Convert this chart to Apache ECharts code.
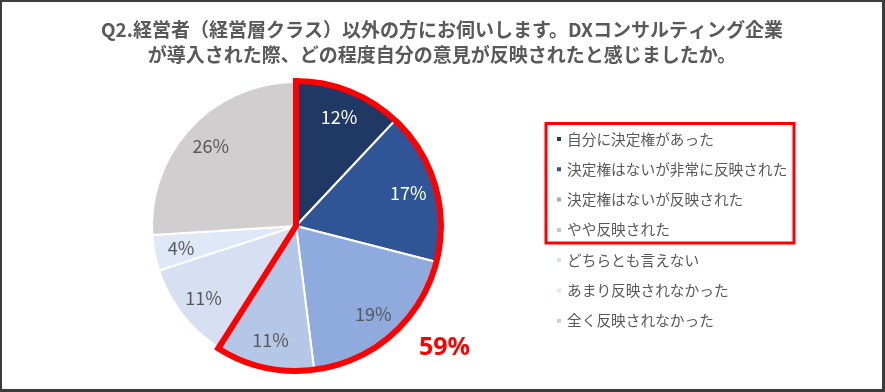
<!DOCTYPE html>
<html>
<head>
<meta charset="utf-8">
<script src="https://cdn.jsdelivr.net/npm/echarts@6/dist/echarts.min.js"></script>
<style>
html,body{margin:0;padding:0;background:#fff;}
#wrap{position:absolute;left:0;top:0;width:880px;height:387px;border-left:2px solid #3c3c3c;border-top:2px solid #3c3c3c;border-right:3px solid #3c3c3c;border-bottom:3px solid #3c3c3c;}
#chart{width:880px;height:387px;}
</style>
</head>
<body>
<div id="wrap"><div id="chart"></div></div>
<script>
const titleLines = ['Q2.経営者（経営層クラス）以外の方にお伺いします。DXコンサルティング企業', 'が導入された際、どの程度自分の意見が反映されたと感じましたか。'];
const categories = ['自分に決定権があった', '決定権はないが非常に反映された', '決定権はないが反映された', 'やや反映された', 'どちらとも言えない', 'あまり反映されなかった', '全く反映されなかった'];
const values = [12, 17, 19, 11, 11, 4, 26];
const colors = ['#203864', '#2F5597', '#8FAADC', '#B4C7E7', '#D6E0F2', '#DEE8F6', '#D0CECE'];
const labelColors = ['#FFFFFF', '#FFFFFF', '#595959', '#595959', '#595959', '#595959', '#595959'];
const highlightCount = 4;

const highlightSum = values.slice(0, highlightCount).reduce((a, b) => a + b, 0);
const restSum = values.slice(highlightCount).reduce((a, b) => a + b, 0);

const chart = echarts.init(document.getElementById('chart'));
const center = [294, 224];
const R = 144;
const font = '"Noto Sans CJK JP", "Noto Sans", sans-serif';

chart.setOption({
  animation: false,
  title: {
    text: titleLines.join('\n'),
    left: 'center',
    top: 10,
    textStyle: { fontFamily: font, fontSize: 19, fontWeight: 'bold', color: '#595959', lineHeight: 25 }
  },
  legend: {
    orient: 'vertical',
    left: 548,
    top: 124,
    itemWidth: 6,
    itemHeight: 6,
    itemGap: 14.3,
    icon: 'rect',
    data: categories,
    textStyle: { fontFamily: font, fontSize: 14.7, color: '#595959', lineHeight: 16 }
  },
  series: [
    {
      type: 'pie',
      center: center,
      radius: [0, R],
      startAngle: 90,
      clockwise: true,
      silent: true,
      label: { show: false },
      labelLine: { show: false },
      itemStyle: { borderColor: '#FFFFFF', borderWidth: 2 },
      data: categories.map((c, i) => ({ name: c, value: values[i], itemStyle: { color: colors[i] } }))
    },
    {
      type: 'pie',
      center: center,
      radius: [84, R],
      startAngle: 90,
      clockwise: true,
      silent: true,
      legendHoverLink: false,
      z: 3,
      label: {
        show: true,
        position: 'inside',
        formatter: p => p.value + '%',
        fontFamily: font,
        fontSize: 18
      },
      labelLine: { show: false },
      itemStyle: { color: 'rgba(0,0,0,0)', borderWidth: 0 },
      data: categories.map((c, i) => ({ name: 'lbl' + i, value: values[i], label: { color: labelColors[i] } }))
    },
    {
      type: 'pie',
      center: center,
      radius: [0, R + 1],
      startAngle: 90,
      clockwise: true,
      silent: true,
      z: 4,
      label: { show: false },
      labelLine: { show: false },
      data: [
        { name: 'hl', value: highlightSum, itemStyle: { color: 'rgba(0,0,0,0)', borderColor: '#FF0000', borderWidth: 6, borderJoin: 'miter' } },
        { name: 'rest', value: restSum, itemStyle: { color: 'rgba(0,0,0,0)', borderWidth: 0 } }
      ]
    }
  ],
  graphic: [
    {
      type: 'rect',
      shape: { x: 544, y: 121.5, width: 248, height: 119.5 },
      style: { fill: 'none', stroke: '#FF0000', lineWidth: 3 }
    },
    {
      type: 'text',
      left: 417,
      top: 333,
      style: { text: highlightSum + '%', fill: '#FF0000', font: 'bold 25px "Noto Sans", sans-serif' }
    }
  ]
});
</script>
</body>
</html>
